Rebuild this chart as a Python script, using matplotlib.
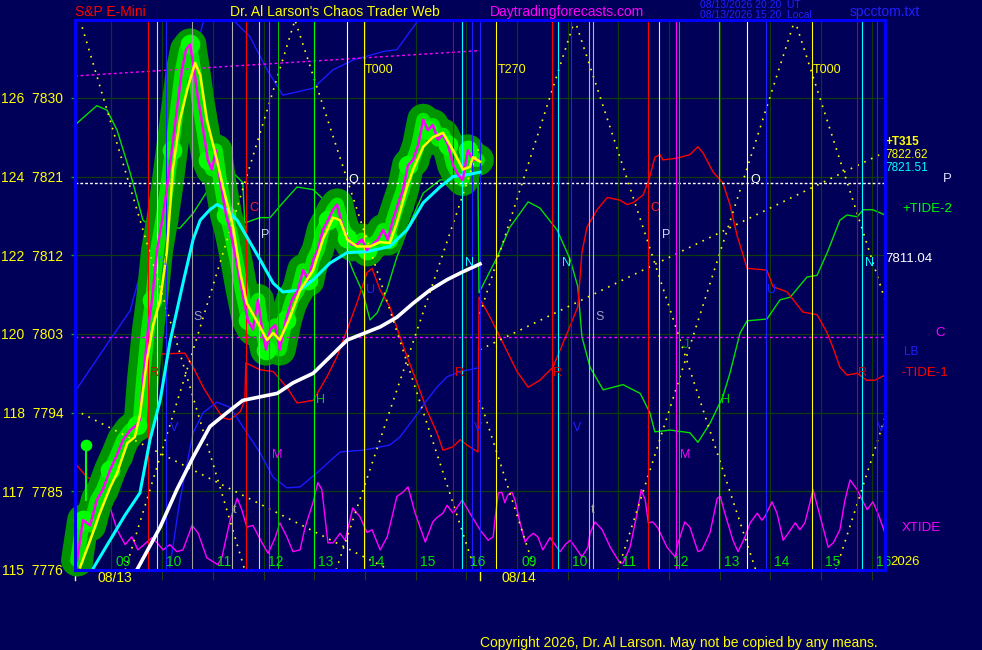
import matplotlib
matplotlib.use("Agg")
import matplotlib.pyplot as plt

plt.rcParams['font.family'] = ['Liberation Sans', 'DejaVu Sans']

BG = '#000058'

# x = trading hours since 08:17 on 08/13 (the 08/14 session starts at x = 8)
# y = S&P E-mini price
raw_t = [0.04, 0.16, 0.30, 0.43, 0.55, 0.69, 0.83, 0.95, 1.09, 1.22,
         1.28, 1.34, 1.44, 1.52, 1.62, 1.72, 1.81, 1.91, 2.01, 2.11,
         2.19, 2.27, 2.35, 2.43, 2.53, 2.62, 2.70, 2.78, 2.86, 2.98,
         3.06, 3.18, 3.29, 3.41, 3.51, 3.61, 3.69, 3.77, 3.85, 3.95,
         4.04, 4.16, 4.28, 4.40, 4.50, 4.60, 4.70, 4.79, 4.89, 4.99,
         5.09, 5.17, 5.27, 5.37, 5.46, 5.56, 5.66, 5.76, 5.86, 5.98,
         6.08, 6.17, 6.27, 6.37, 6.47, 6.57, 6.67, 6.77, 6.87, 6.96,
         7.06, 7.16, 7.26, 7.36, 7.46, 7.56, 7.65, 7.75, 7.85, 7.95]
raw_p = [7777.1, 7781.7, 7781.1, 7784.0, 7785.2, 7787.4, 7789.2, 7790.9, 7792.0, 7792.6,
         7793.2, 7797.7, 7803.5, 7806.9, 7812.6, 7816.0, 7819.5, 7824.0, 7828.6, 7833.2,
         7835.5, 7836.1, 7833.2, 7829.8, 7826.3, 7822.9, 7821.8, 7824.0, 7820.6, 7816.6,
         7814.9, 7811.5, 7808.0, 7804.6, 7803.5, 7806.9, 7803.5, 7801.2, 7803.5, 7804.0,
         7801.2, 7804.6, 7806.9, 7808.0, 7810.3, 7809.2, 7811.5, 7812.6, 7814.9, 7816.0,
         7817.2, 7817.8, 7815.5, 7814.0, 7813.2, 7813.2, 7813.8, 7812.6, 7813.2, 7813.8,
         7814.9, 7813.8, 7816.0, 7817.8, 7819.5, 7822.3, 7822.9, 7824.6, 7827.5, 7826.3,
         7826.9, 7825.2, 7825.8, 7824.6, 7822.3, 7821.2, 7820.6, 7824.0, 7822.9, 7822.9]

smooth_t = [0.10, 0.30, 0.49, 0.69, 0.83, 1.03, 1.18, 1.28, 1.42, 1.54,
            1.68, 1.81, 1.93, 2.07, 2.23, 2.37, 2.47, 2.60, 2.80, 2.92,
            3.12, 3.26, 3.39, 3.65, 3.79, 3.91, 4.04, 4.24, 4.44, 4.70,
            4.89, 5.09, 5.23, 5.37, 5.56, 5.82, 6.02, 6.21, 6.35, 6.55,
            6.67, 6.87, 7.06, 7.26, 7.46, 7.65, 7.79, 7.85, 7.99]
smooth_p = [7776.3, 7779.4, 7782.5, 7785.4, 7787.1, 7790.5, 7791.2, 7793.7, 7800.0, 7804.0,
            7806.9, 7812.3, 7821.8, 7827.5, 7831.3, 7834.0, 7832.6, 7827.5, 7822.9, 7819.8,
            7815.2, 7810.0, 7806.5, 7803.8, 7802.3, 7803.1, 7802.3, 7804.9, 7808.0, 7810.3,
            7813.8, 7816.3, 7816.0, 7813.8, 7813.0, 7813.0, 7813.5, 7813.4, 7815.7, 7819.8,
            7821.8, 7824.4, 7825.5, 7826.0, 7824.0, 7821.8, 7822.1, 7823.2, 7822.7]

fast_t = [0.36, 0.69, 0.99, 1.28, 1.48, 1.68, 1.87, 2.13, 2.33, 2.47,
          2.66, 2.80, 3.00, 3.20, 3.39, 3.65, 3.91, 4.10, 4.44, 4.70,
          5.03, 5.37, 5.76, 6.21, 6.55, 6.87, 7.20, 7.46, 7.73, 7.99]
fast_p = [7776.2, 7779.4, 7782.3, 7784.8, 7790.9, 7795.4, 7802.0, 7808.8, 7813.8, 7816.0,
          7817.2, 7817.8, 7817.2, 7816.0, 7814.1, 7811.5, 7808.8, 7807.8, 7808.0, 7809.2,
          7811.1, 7812.3, 7812.4, 7813.0, 7814.9, 7818.0, 7819.8, 7821.0, 7821.2, 7821.5]

slow_t = [1.22, 1.68, 2.01, 2.33, 2.66, 3.00, 3.31, 3.65, 3.99, 4.30,
          4.70, 5.37, 6.02, 6.35, 6.67, 7.00, 7.34, 7.65, 7.99]
slow_p = [7776.0, 7780.9, 7785.2, 7788.9, 7792.4, 7794.0, 7795.4, 7795.8, 7796.2, 7797.4,
          7798.5, 7802.3, 7803.8, 7804.9, 7806.5, 7808.0, 7809.2, 7810.1, 7811.0]

tide2_t = [0.00, 0.43, 0.63, 0.83, 1.09, 1.34, 1.54, 2.07, 2.33, 2.66,
           3.06, 3.31, 3.35, 3.65, 3.85, 4.10, 4.38, 4.70, 4.97, 5.23,
           5.48, 5.68, 5.82, 5.96, 6.15, 6.35, 6.61, 6.87, 7.20, 7.60,
           7.95, 7.97, 8.33, 8.58, 8.94, 9.17, 9.51, 9.77, 9.92, 10.00,
           10.16, 10.42, 10.81, 11.15, 11.34, 11.44, 11.74, 12.13, 12.29, 12.53,
           12.78, 12.92, 13.12, 13.26, 13.65, 13.91, 14.11, 14.44, 14.64, 14.84,
           15.09, 15.23, 15.43, 15.55, 15.74, 15.98]
tide2_p = [7826.9, 7829.1, 7828.6, 7826.3, 7821.4, 7816.0, 7815.2, 7815.1, 7816.8, 7819.8,
           7821.8, 7820.3, 7815.7, 7816.3, 7816.3, 7818.0, 7819.8, 7819.5, 7818.0, 7814.1,
           7810.3, 7807.7, 7804.6, 7805.4, 7808.0, 7811.8, 7815.7, 7819.1, 7820.6, 7820.8,
           7820.6, 7807.7, 7811.8, 7815.2, 7818.1, 7817.4, 7814.9, 7811.5, 7808.4, 7802.7,
           7799.2, 7796.6, 7797.2, 7796.2, 7794.0, 7791.8, 7792.0, 7791.7, 7790.6, 7792.8,
           7795.8, 7798.5, 7803.1, 7804.5, 7804.7, 7806.9, 7807.2, 7809.5, 7809.7, 7812.3,
           7816.0, 7816.6, 7816.4, 7817.2, 7817.2, 7816.6]

tide1_t = [0.00, 0.24, 0.49, 0.75, 0.95, 1.09, 1.22, 1.34, 1.48, 1.68,
           2.17, 2.33, 2.53, 2.72, 2.92, 3.06, 3.26, 3.35, 3.37, 3.65,
           3.91, 4.18, 4.38, 4.70, 4.97, 5.17, 5.37, 5.56, 5.76, 5.86,
           6.02, 6.21, 6.41, 6.55, 6.75, 6.94, 7.14, 7.26, 7.46, 7.60,
           7.73, 7.95, 7.97, 8.19, 8.44, 8.72, 8.94, 9.17, 9.43, 9.71,
           9.92, 10.00, 10.10, 10.30, 10.50, 10.75, 10.89, 11.01, 11.21, 11.34,
           11.44, 11.54, 11.60, 11.88, 12.13, 12.29, 12.39, 12.59, 12.78, 12.92,
           13.06, 13.26, 13.65, 13.77, 14.05, 14.36, 14.64, 14.84, 14.95, 15.09,
           15.23, 15.43, 15.62, 15.78, 15.98]
tide1_p = [7788.2, 7786.6, 7786.0, 7786.6, 7788.9, 7793.5, 7797.4, 7799.2, 7800.6, 7800.7,
           7800.8, 7799.2, 7796.9, 7795.1, 7793.4, 7793.2, 7794.1, 7795.4, 7799.7, 7798.9,
           7798.7, 7796.9, 7795.1, 7795.4, 7798.1, 7800.4, 7803.5, 7806.5, 7810.0, 7810.5,
           7808.0, 7806.1, 7802.7, 7800.4, 7797.4, 7794.3, 7791.7, 7789.7, 7790.1, 7790.9,
           7790.3, 7789.5, 7807.2, 7804.9, 7802.0, 7798.7, 7796.9, 7797.7, 7799.2, 7803.1,
           7806.1, 7812.3, 7815.2, 7817.2, 7818.6, 7818.3, 7817.8, 7818.0, 7818.9, 7821.0,
           7823.2, 7823.5, 7822.9, 7823.1, 7823.5, 7824.4, 7823.7, 7821.5, 7820.3, 7817.8,
           7814.3, 7810.5, 7810.3, 7808.4, 7807.8, 7805.5, 7805.2, 7803.1, 7801.5, 7799.2,
           7798.3, 7798.5, 7797.7, 7797.7, 7798.3]

blue_hi_t = [0.00, 0.49, 1.09, 1.68, 2.17, 2.56, 2.84, 3.12, 3.45, 3.79,
             4.10, 4.70, 5.09, 5.48, 6.08, 6.35, 6.75, 7.00]
blue_hi_p = [7796.4, 7800.6, 7805.7, 7818.3, 7829.8, 7839.5, 7841.8, 7838.9, 7837.0, 7833.2,
             7830.3, 7831.1, 7833.2, 7834.3, 7835.3, 7835.5, 7838.7, 7841.8]

blue_lo_t = [1.87, 2.07, 2.33, 2.53, 2.80, 3.06, 3.31, 3.65, 3.91, 4.18,
             4.44, 4.77, 5.23, 5.68, 5.96, 6.21, 6.41, 6.67, 6.94, 7.14,
             7.34, 7.60, 7.95]
blue_lo_p = [7776.3, 7784.0, 7791.7, 7794.0, 7795.2, 7794.6, 7792.4, 7789.4, 7786.6, 7785.4,
             7785.5, 7787.1, 7789.5, 7789.7, 7790.0, 7790.3, 7791.2, 7793.2, 7795.4, 7796.9,
             7798.1, 7798.7, 7799.1]

xtide_t = [0.00, 0.30, 0.49, 0.69, 0.83, 0.99, 1.12, 1.24, 1.42, 1.52,
           1.62, 1.74, 1.87, 2.01, 2.13, 2.31, 2.43, 2.60, 2.82, 2.90,
           3.06, 3.20, 3.29, 3.39, 3.51, 3.69, 3.81, 3.95, 4.04, 4.18,
           4.30, 4.44, 4.54, 4.70, 4.79, 4.87, 4.99, 5.09, 5.23, 5.33,
           5.48, 5.62, 5.76, 5.86, 6.02, 6.16, 6.35, 6.47, 6.57, 6.71,
           6.91, 7.06, 7.14, 7.26, 7.34, 7.46, 7.64, 7.79, 7.99,
           8.15, 8.25, 8.29, 8.35, 8.42, 8.48, 8.54, 8.62, 8.68, 8.78,
           8.88, 8.94, 9.04, 9.13, 9.23, 9.37, 9.47, 9.57, 9.67, 9.77,
           9.87, 10.00, 10.12, 10.16, 10.26, 10.40, 10.56, 10.75, 10.81, 10.95,
           11.09, 11.17, 11.25, 11.31, 11.40, 11.50, 11.68, 11.84, 11.90, 12.03,
           12.13, 12.29, 12.37, 12.53, 12.67, 12.73, 12.82, 12.98, 13.08, 13.22,
           13.32, 13.46, 13.55, 13.61, 13.75, 13.85, 13.97, 14.07, 14.21, 14.30,
           14.40, 14.50, 14.56, 14.70, 14.86, 14.96, 15.09, 15.19, 15.29, 15.43,
           15.53, 15.63, 15.74, 15.84, 15.98]
xtide_p = [7780.6, 7783.4, 7784.6, 7783.2, 7780.6, 7778.9, 7779.8, 7778.3, 7779.2, 7779.7,
           7779.1, 7778.3, 7778.9, 7778.1, 7778.3, 7781.1, 7780.2, 7777.4, 7776.6, 7777.5,
           7781.7, 7784.2, 7782.9, 7780.9, 7781.1, 7779.1, 7777.9, 7779.7, 7781.4, 7779.8,
           7778.1, 7778.3, 7780.9, 7783.8, 7786.0, 7785.2, 7779.1, 7779.1, 7780.2, 7779.4,
           7783.1, 7782.1, 7780.3, 7780.6, 7778.3, 7779.8, 7784.4, 7784.9, 7785.5, 7782.5,
           7779.2, 7781.5, 7782.0, 7782.5, 7783.4, 7782.5, 7784.0, 7782.5, 7780.6,
           7779.4, 7779.8, 7782.0, 7784.8, 7784.9, 7783.7, 7784.6, 7784.9, 7784.0, 7781.4,
           7779.2, 7779.7, 7780.2, 7779.8, 7778.3, 7779.7, 7778.9, 7778.1, 7778.9, 7779.4,
           7778.6, 7777.5, 7778.6, 7780.2, 7781.5, 7780.6, 7778.6, 7776.8, 7776.8, 7778.6,
           7782.5, 7785.2, 7784.0, 7781.4, 7781.5, 7780.8, 7778.6, 7777.5, 7779.1, 7781.5,
           7780.9, 7778.1, 7778.3, 7780.3, 7784.2, 7784.4, 7782.5, 7779.4, 7778.1, 7779.8,
           7781.4, 7782.5, 7781.7, 7782.1, 7783.8, 7782.5, 7779.4, 7780.2, 7781.4, 7780.6,
           7781.4, 7783.7, 7785.2, 7782.1, 7778.6, 7779.1, 7780.6, 7784.0, 7786.3, 7785.2,
           7784.0, 7782.9, 7783.8, 7782.5, 7780.2]

# dotted yellow timing lines (vertices)
yel_lines = [
    ([0.10, 3.35], [7838.9, 7776.0]),
    ([0.99, 4.34, 7.89], [7776.0, 7838.9, 7776.0]),
    ([5.15, 7.99], [7776.0, 7824.7]),
    ([0.00, 6.21], [7794.3, 7776.0]),
    ([7.99, 9.07], [7795.4, 7776.0]),
    ([7.99, 9.86, 13.43], [7805.3, 7838.9, 7776.0]),
    ([10.71, 14.20, 15.98], [7776.0, 7838.9, 7806.9]),
    ([15.01, 15.98], [7776.0, 7793.4]),
    ([7.99, 15.98], [7801.2, 7823.8]),
]
mag_top_t = [0.00, 7.99]
mag_top_p = [7832.5, 7835.4]
mag_level = 7802.7
white_level = 7820.3

# vertical time lines
vline_x = [1.44, 1.62, 1.80, 2.31, 3.10, 3.37, 3.63, 3.83, 4.00, 4.72,
           5.37, 5.70, 7.46, 7.64, 7.83, 7.99, 8.31, 9.41, 9.53, 9.79,
           10.14, 10.22, 11.30, 11.52, 11.86, 11.92, 12.70, 13.26, 13.63, 14.54,
           15.43, 15.53, 15.82]
vline_c = ['#ff0000', '#80ffff', '#2020ff', '#a0a0a0', '#b0b0b0', '#ff0000', '#d0d0ff',
           '#ff00ff', '#00c000', '#00ff00', '#ffffff', '#ffff00', '#c00000', '#00ffff',
           '#2020ff', '#2020ff', '#ffff00', '#ff0000', '#00ffff', '#2020ff', '#b0b0e0',
           '#b0b0e0', '#ff0000', '#e0e0ff', '#ff00ff', '#00c000', '#00ff00', '#ffffff',
           '#2020ff', '#ffff00', '#c00000', '#00ffff', '#2020ff']

hour_labels = ['09', '10', '11', '12', '13', '14', '15', '16']
hour_x = [0.72 + k for k in range(8)] + [8.72 + k for k in range(8)]
price_ticks = [7830, 7821, 7812, 7803, 7794, 7785, 7776]
tick_codes = [126, 124, 122, 120, 118, 117, 115]

marks = [('T000', 5.72, 7833.2, '#ffff00'), ('T270', 8.33, 7833.2, '#ffff00'),
         ('T000', 14.56, 7833.2, '#ffff00'),
         ('O', 5.39, 7820.6, '#ffffff'), ('O', 13.32, 7820.6, '#ffffff'),
         ('N', 1.64, 7811.2, '#4080ff'), ('N', 7.69, 7811.1, '#00ffff'),
         ('N', 9.61, 7811.1, '#00ffff'), ('N', 15.58, 7811.1, '#00ffff'),
         ('S', 2.33, 7804.9, '#a0a0c0'), ('S', 10.26, 7804.9, '#a0a0c0'),
         ('C', 3.45, 7817.4, '#ff2020'), ('C', 11.36, 7817.4, '#ff2020'),
         ('P', 3.67, 7814.3, '#d0d0ff'), ('P', 11.58, 7814.3, '#d0d0ff'),
         ('H', 4.75, 7795.4, '#00d000'), ('H', 12.74, 7795.4, '#00d000'),
         ('R', 1.48, 7798.5, '#e00000'), ('R', 7.50, 7798.5, '#e00000'),
         ('R', 9.43, 7798.5, '#e00000'), ('R', 15.45, 7798.5, '#e00000'),
         ('U', 5.74, 7808.0, '#2020ff'), ('U', 13.65, 7808.0, '#2020ff'),
         ('V', 1.87, 7792.2, '#2020ff'), ('V', 7.87, 7792.2, '#2020ff'),
         ('V', 9.82, 7792.2, '#2020ff'), ('V', 15.82, 7792.2, '#2020ff'),
         ('M', 3.89, 7789.2, '#ff00ff'), ('M', 11.94, 7789.2, '#ff00ff'),
         ('J', 11.99, 7801.7, '#00a000'),
         ('t', 3.12, 7782.9, '#a0a0a0'), ('t', 10.18, 7782.9, '#a0a0a0')]

right_labels = [('+T315', 15.98, 7825.0, '#ffff00', 8.5), ('7822.62', 15.98, 7823.5, '#ffff00', 8.5),
                ('7821.51', 15.98, 7822.0, '#00ffff', 8.5), ('P', 17.12, 7820.7, '#e0e0ff', 9.5),
                ('+TIDE-2', 16.33, 7817.3, '#00ff00', 9.5), ('7811.04', 15.98, 7811.6, '#ffffff', 9.5),
                ('C', 16.97, 7803.1, '#ff00ff', 9.5), ('LB', 16.35, 7800.9, '#2020ff', 8.5),
                ('-TIDE-1', 16.31, 7798.5, '#ff0000', 9.5), ('XTIDE', 16.31, 7780.8, '#ff00ff', 9.5),
                ('2026', 16.08, 7776.9, '#ffff00', 9.5)]

fig = plt.figure(figsize=(9.82, 6.5), dpi=100, facecolor=BG)
ax = fig.add_axes([75 / 982, 80 / 650, 810 / 982, 550 / 650], facecolor=BG)
ax.set_xlim(0, 15.98)
ax.set_ylim(7776, 7838.9)

# grid
ax.vlines(hour_x, 0, 1, transform=ax.get_xaxis_transform(), colors='#0c3c0c', lw=0.9, zorder=1)
ax.hlines(price_ticks[:-1], 0, 1, transform=ax.get_yaxis_transform(), colors='#0c3c0c', lw=0.9, zorder=1)

# tides and indicators
ax.plot(tide2_t, tide2_p, color='#00e000', lw=1.0, zorder=2.5)
ax.plot(tide1_t, tide1_p, color='#ff0000', lw=1.0, zorder=2.5)
ax.plot(blue_hi_t, blue_hi_p, color='#1a1aff', lw=1.0, zorder=2.5)
ax.plot(blue_lo_t, blue_lo_p, color='#1a1aff', lw=1.0, zorder=2.5)
ax.plot(xtide_t, xtide_p, color='#ff00ff', lw=1.0, zorder=2.5)

# price envelope
ax.plot(raw_t, raw_p, color='#009400', lw=23, solid_capstyle='round',
        solid_joinstyle='round', zorder=3, clip_on=False)
ax.scatter(raw_t[::3], raw_p[::3], s=520, color='#009400', linewidths=0, zorder=3, clip_on=False)
ax.plot(raw_t, raw_p, color='#00e800', lw=10, solid_capstyle='round',
        solid_joinstyle='round', zorder=3.1, clip_on=False)
ax.scatter(raw_t[1::4], raw_p[1::4], s=200, color='#00ff00', linewidths=0, zorder=3.2, clip_on=False)
ax.plot([0.22, 0.22], [7790.3, 7784.0], color='#00ff00', lw=1.5, zorder=3.2)
ax.scatter([0.22], [7790.3], s=70, color='#00ff00', linewidths=0, zorder=3.2)

# dotted guide lines
for xs, ys in yel_lines:
    ax.plot(xs, ys, color='#ffff00', lw=1.2, ls=(0, (1, 3.5)), zorder=3.5)
ax.plot(mag_top_t, mag_top_p, color='#ff00ff', lw=1.0, ls=(0, (2, 2)), zorder=3.5)
ax.axhline(mag_level, color='#ff00ff', lw=1.0, ls=(0, (2, 2)), zorder=3.5)
ax.axhline(white_level, color='#ffffff', lw=1.0, ls=(0, (2, 1.5)), zorder=3.5)

# time lines
ax.vlines(vline_x, 0, 1, transform=ax.get_xaxis_transform(), colors=vline_c, lw=0.8, zorder=4)

# averages and price
ax.plot(slow_t, slow_p, color='#ffffff', lw=2.6, zorder=5)
ax.plot(fast_t, fast_p, color='#00ffff', lw=2.2, zorder=5)
ax.plot(raw_t, raw_p, color='#ff00ff', lw=1.8, zorder=6)
ax.plot(smooth_t, smooth_p, color='#ffff00', lw=1.8, zorder=6.5)

for txt, x, y, c in marks:
    ax.text(x, y, txt, color=c, fontsize=9, ha='left', va='center', zorder=7)
for txt, x, y, c, fs in right_labels:
    ax.text(x, y, txt, color=c, fontsize=fs, ha='left', va='center',
            fontweight='bold' if txt == '+T315' else 'normal', clip_on=False)
for k, hx in enumerate(hour_x):
    ax.text(hx + 0.08, 7776.9, hour_labels[k % 8], color='#00e000', fontsize=10,
            ha='left', va='center', zorder=7)

# axes styling
for sp in ax.spines.values():
    sp.set_color('#0000ff')
    sp.set_linewidth(2.2)
    sp.set_zorder(8)
ax.set_yticks(price_ticks)
ax.set_yticklabels([f'{c}  {p}' for c, p in zip(tick_codes, price_ticks)])
ax.tick_params(axis='y', colors='#00b000', labelcolor='#ffff00', length=3, width=1,
               pad=5.5, labelsize=10)
ax.set_xticks(hour_x)
ax.set_xticklabels([])
ax.tick_params(axis='x', colors='#1e3a1e', length=7, width=0.9)

xt = ax.get_xaxis_transform()
ax.plot([0.0, 0.0], [-0.004, -0.018], transform=xt, color='#ffffc0', lw=1, clip_on=False)
ax.plot([7.99, 7.99], [-0.004, -0.018], transform=xt, color='#ffff00', lw=1, clip_on=False)
ax.text(0.45, -0.015, '08/13', transform=xt, color='#ffff00', fontsize=10, ha='left', va='center')
ax.text(8.42, -0.015, '08/14', transform=xt, color='#ffff00', fontsize=10, ha='left', va='center')

# header and footer
top = 1 - 12 / 650
fig.text(75 / 982, top, 'S&P E-Mini', color='#ff0000', fontsize=10, va='center')
fig.text(230 / 982, top, "Dr. Al Larson's Chaos Trader Web", color='#ffff00', fontsize=10, va='center')
fig.text(490 / 982, top, 'Daytradingforecasts.com', color='#ff00ff', fontsize=10, va='center')
fig.text(700 / 982, 1 - 5 / 650, '08/13/2026 20:20  UT', color='#2020ff', fontsize=7.5, va='center')
fig.text(700 / 982, 1 - 15 / 650, '08/13/2026 15:20  Local', color='#2020ff', fontsize=7.5, va='center')
fig.text(850 / 982, top, 'spcctom.txt', color='#2020ff', fontsize=10, va='center')
fig.text(480 / 982, 1 - 643 / 650, 'Copyright 2026, Dr. Al Larson. May not be copied by any means.',
         color='#ffff00', fontsize=10, va='center')

fig.savefig('out.png', dpi=100, facecolor=BG)
